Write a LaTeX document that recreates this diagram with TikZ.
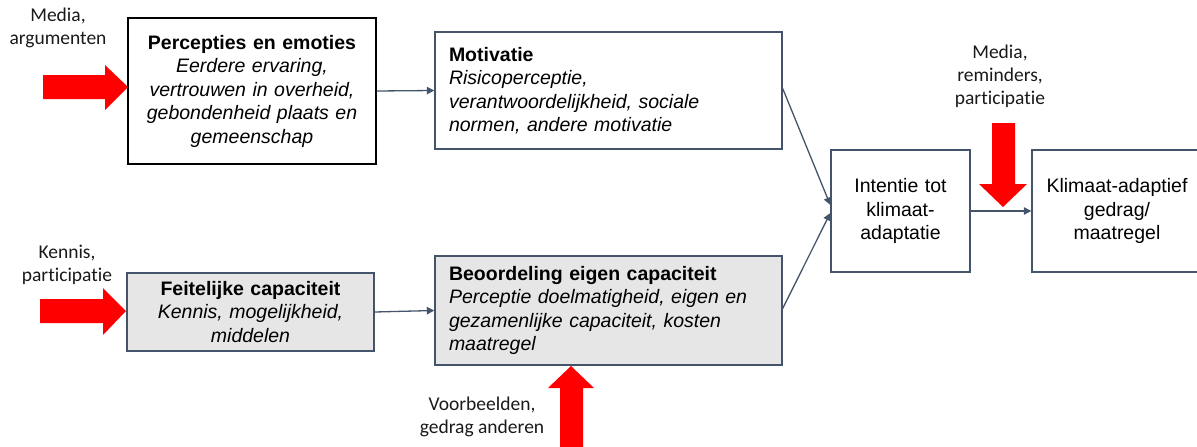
\documentclass[tikz,border=0pt]{standalone}
\usepackage{fontspec}
\setmainfont{Liberation Sans}
\newfontfamily\calib[Ligatures={NoCommon}]{Carlito}
\usetikzlibrary{arrows.meta}
\definecolor{slate}{RGB}{68,84,106}
\definecolor{boxgrey}{RGB}{231,230,230}
\definecolor{bigred}{RGB}{255,0,0}
\begin{document}
\begin{tikzpicture}[x=1pt,y=-1pt,
  box/.style={draw=slate, line width=1.4pt, rectangle, inner ysep=0pt,
    font=\fontsize{19.5}{23.5}\selectfont},
  cbox/.style={box, align=center, inner xsep=10pt},
  lbox/.style={box, align=left, inner xsep=14pt},
  greybox/.style={fill=boxgrey},
  lbl/.style={font=\calib\fontsize{19.5}{23}\selectfont, align=center, inner sep=0pt, text=black!90},
  conn/.style={draw=slate, line width=1.3pt, -{Triangle[length=7.5pt,width=7.5pt]}},
  bigarrow/.style={fill=bigred, draw=none}
]
\useasboundingbox (0,0) rectangle (1197,447);
\clip (0,0) rectangle (1197,447);

% boxes
\node[cbox, draw=black, text width=228pt, minimum height=146pt] (perc) at (252,91)
  {\textbf{Percepties en emoties}\\ \textit{Eerdere ervaring,}\\ \textit{vertrouwen in overheid,}\\ \textit{gebondenheid plaats en}\\ \textit{gemeenschap}};
\node[lbox, text width=319pt, minimum height=117pt] (motiv) at (608.5,90.5)
  {\textbf{Motivatie}\\ \textit{Risicoperceptie,}\\ \textit{verantwoordelijkheid, sociale}\\ \textit{normen, andere motivatie}};
\node[cbox, greybox, text width=227pt, minimum height=78pt] (feit) at (250.5,312)
  {\textbf{Feitelijke capaciteit}\\ \textit{Kennis, mogelijkheid,}\\ \textit{middelen}};
\node[lbox, greybox, text width=319pt, minimum height=109pt] (beoor) at (608.5,310.5)
  {\textbf{Beoordeling eigen capaciteit}\\ \textit{Perceptie doelmatigheid, eigen en}\\ \textit{gezamenlijke capaciteit, kosten}\\ \textit{maatregel}};
\node[cbox, text width=119pt, minimum height=122pt] (intent) at (900.5,211)
  {Intentie tot\\ klimaat-\\ adaptatie};
\node[cbox, text width=150pt, minimum height=122pt] (klim) at (1117,211)
  {Klimaat-adaptief\\ gedrag/\\ maatregel};

% connectors
\draw[conn] (perc.east) -- (motiv.west);
\draw[conn] (feit.east) -- (beoor.west);
\draw[conn] ([yshift=2pt]motiv.east) -- ([yshift=6pt]intent.west);
\draw[conn] ([yshift=2pt]beoor.east) -- ([yshift=-2pt]intent.west);
\draw[conn] (intent.east) -- (klim.west);

% labels
\node[lbl] (l1) at (58,28) {Media,\\argumenten};
\node[lbl] (l2) at (67,265) {Kennis,\\participatie};
\node[lbl] (l3) at (1000,76) {Media,\\reminders,\\participatie};
\node[lbl] (l4) at (482,417) {Voorbeelden,\\gedrag anderen};

% red block arrows
\fill[bigarrow] (43,75) -- (105,75) -- (105,65) -- (128,87) -- (105,110) -- (105,99) -- (43,99) -- cycle;
\fill[bigarrow] (40,299) -- (103,299) -- (103,288) -- (126,311) -- (103,335) -- (103,323) -- (40,323) -- cycle;
\fill[bigarrow] (992,123) -- (1015,123) -- (1015,184) -- (1027,184) -- (1003,207) -- (979,184) -- (992,184) -- cycle;
\fill[bigarrow] (560,452) -- (560,388) -- (548,388) -- (571,366) -- (594,388) -- (583,388) -- (583,452) -- cycle;
\end{tikzpicture}
\end{document}
